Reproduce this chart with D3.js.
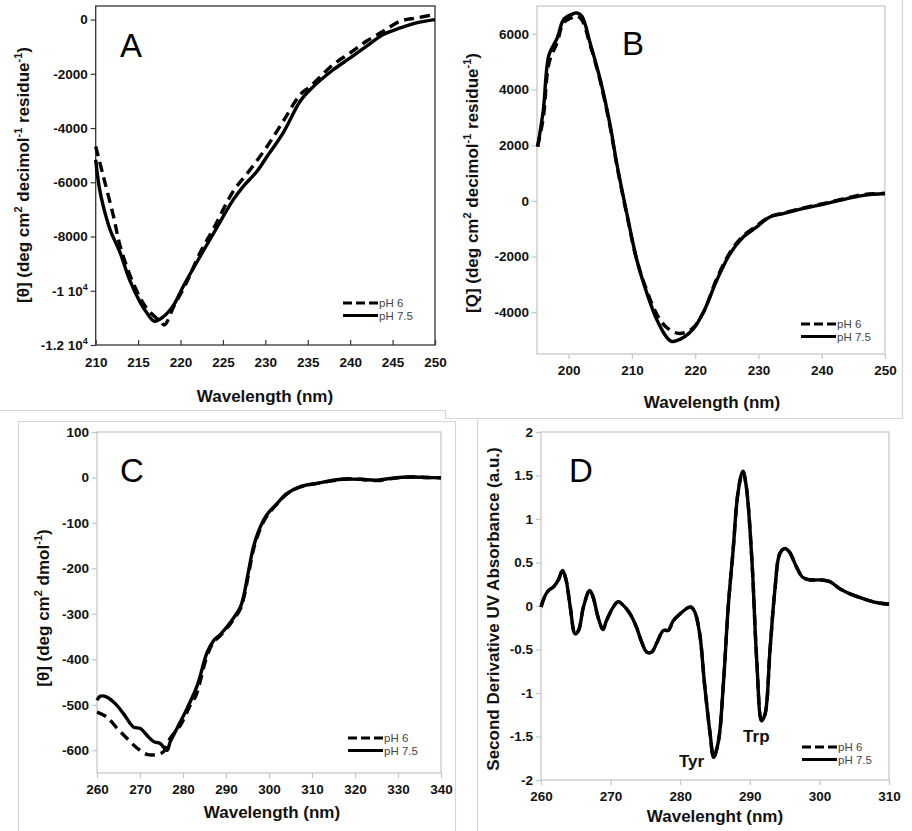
<!DOCTYPE html>
<html><head><meta charset="utf-8">
<script src="https://cdn.jsdelivr.net/npm/d3@7"></script>
<style>
body{margin:0;background:#fff;}
svg{display:block;font-family:"Liberation Sans",Arial,sans-serif;}
</style></head>
<body><svg id="c" width="912" height="831"></svg>
<script>
// ---------- DATA ----------
// Panel A (far-UV CD, mean residue ellipticity)
const aWl75 = [210,210.4,210.9,211.7,212.9,214.0,215.2,216.0,216.9,218,219.2,220.3,222.3,223.9,226.2,227.4,229,230.2,232.1,234.1,235.3,238,240,241.9,243.9,245.9,247.8,250];
const aPH75 = [-5170,-6150,-6890,-7750,-8615,-9600,-10400,-10800,-11120,-10950,-10520,-9850,-8740,-7880,-6650,-6150,-5600,-5050,-4180,-3015,-2580,-1850,-1415,-985,-550,-310,-120,0];
const aWl6  = [210,210.9,212.1,212.9,214.4,216,217.6,218.1,219.2,220.7,222.3,223.9,226.2,228.2,230.2,232.1,234.1,235.3,238,240,241.9,243.9,245.9,247.8,250];
const aPH6  = [-4680,-5780,-7260,-8370,-9700,-10640,-11130,-11260,-10580,-9700,-8600,-7700,-6340,-5540,-4680,-3750,-2770,-2460,-1660,-1230,-800,-430,-60,60,185];
const aXTicks = [210,215,220,225,230,235,240,245,250];
const aYTicks = [0,-2000,-4000,-6000,-8000,-10000,-12000];

// Panel B (far-UV CD)
const bWl75 = [195.1,196,196.9,198.2,199.2,200.5,201.3,202.1,203.4,205,206.6,207.6,209.2,210.8,212.4,214,215.5,216.3,218.2,219.7,221.3,223.4,225.5,227.6,229.7,231.8,233.9,237,240.2,243.4,246.6,250];
const bPH75 = [1950,3270,5250,5850,6510,6700,6750,6630,5670,4350,2670,1350,-460,-2140,-3340,-4300,-4900,-5050,-4900,-4600,-4000,-2860,-1900,-1300,-940,-580,-460,-280,-120,50,200,265];
const bWl6  = [195.1,196,196.9,198.2,199.2,200.5,201.3,202.1,203.4,205,206.6,207.6,209.2,210.8,212.4,214,215.5,217.4,219.5,221.3,223.4,225.5,227.6,229.7,231.8,233.9,237,240.2,243.4,246.6,250];
const bPH6  = [1950,3000,4950,5700,6400,6580,6650,6500,5600,4300,2600,1300,-500,-2150,-3250,-4100,-4550,-4760,-4600,-4000,-2800,-1850,-1250,-900,-560,-440,-260,-100,70,230,265];
const bXTicks = [200,210,220,230,240,250];
const bYTicks = [6000,4000,2000,0,-2000,-4000];

// Panel C (near-UV CD)
const cWl75 = [260,260.8,262.3,264.3,266.2,268.5,270.1,271.6,273.2,274.7,276.3,277,278.6,280.9,283.3,285.6,287.1,288.7,291,293.3,294.1,295.3,296.4,298,299.5,301.9,304.2,307.3,311.2,315,317.4,321.2,325.1,329,332.9,336.7,340];
const cPH75 = [-490,-481,-483,-498,-520,-549,-552,-567,-581,-585,-600,-582,-552,-509,-458,-385,-359,-345,-319,-286,-261,-203,-152,-108,-82,-57,-35,-20,-13,-6,-4,-4,-6,-1,1,0,-1];
const cWl6  = [260,262.3,264.7,267,269.3,271.6,274,275.5,277,279.4,281.7,283,285.6,287.1,288.7,291,293.3,294.1,295.3,296.4,298,299.5,301.9,304.2,307.3,311.2,315,317.4,321.2,325.1,329,332.9,336.7,340];
const cPH6  = [-516,-527,-552,-574,-595,-609,-609,-603,-574,-545,-501,-480,-392,-362,-348,-322,-290,-266,-210,-158,-112,-85,-58,-36,-21,-13,-7,-3,-4,-7,-2,1,0,-1];
const cXTicks = [260,270,280,290,300,310,320,330,340];
const cYTicks = [100,0,-100,-200,-300,-400,-500,-600];

// Panel D (second-derivative UV absorbance)
const dWl = [260,260.6,261.1,261.8,262.5,263.1,263.6,264.2,264.9,265.4,266.1,267,267.5,268.2,268.9,269.4,270.4,271.1,271.8,272.8,273.7,274.4,275.2,275.9,276.6,277.6,278.3,279,280,280.9,281.5,282.1,282.8,283.5,284.3,284.8,285.5,286.2,286.9,287.6,288.3,289,289.5,290.3,291,291.7,292.2,292.9,293.6,294.3,295,295.7,296.7,297.6,298.6,300,301.5,302.9,304.4,306.3,308.2,310];
const dPH75 = [-0.01,0.12,0.18,0.22,0.30,0.41,0.30,-0.01,-0.32,-0.28,-0.01,0.18,0.10,-0.13,-0.27,-0.17,-0.01,0.05,0.01,-0.09,-0.24,-0.40,-0.53,-0.53,-0.43,-0.28,-0.28,-0.17,-0.09,-0.03,-0.01,-0.07,-0.32,-0.90,-1.47,-1.74,-1.55,-0.90,-0.01,0.64,1.30,1.55,1.37,0.53,-0.63,-1.32,-1.24,-0.51,0.18,0.60,0.66,0.62,0.45,0.33,0.30,0.30,0.28,0.20,0.14,0.085,0.04,0.02];
const dPH6  = [-0.01,0.12,0.18,0.22,0.30,0.41,0.30,-0.01,-0.32,-0.28,-0.01,0.18,0.10,-0.13,-0.27,-0.17,-0.01,0.05,0.01,-0.09,-0.24,-0.40,-0.53,-0.53,-0.43,-0.28,-0.28,-0.17,-0.09,-0.03,-0.01,-0.07,-0.32,-0.90,-1.47,-1.74,-1.55,-0.90,-0.01,0.64,1.30,1.55,1.37,0.53,-0.63,-1.32,-1.24,-0.51,0.18,0.60,0.66,0.62,0.45,0.33,0.30,0.30,0.28,0.20,0.14,0.085,0.04,0.02];
const dXTicks = [260,270,280,290,300,310];
const dYTicks = [2,1.5,1,0.5,0,-0.5,-1,-1.5,-2];
const dAnnotations = ["Tyr","Trp"];
const dAnnotationWl = [284.8,291.8];
const dAnnotationVal = [-1.74,-1.32];

const seriesNames = ["pH 6","pH 7.5"];

// ---------- DRAW ----------
const svg = d3.select("#c");
const FRAME_GRAY = "#c4c4c4";
const FONT = "'Liberation Sans',Arial,sans-serif";

// panel separator lines (light gray)
const sep = svg.append("g").attr("fill","none").attr("stroke","#d6d6d6").attr("stroke-width",1.2);
sep.append("path").attr("d","M0,410.5H445.5V418.5H902.5V0");
sep.append("path").attr("d","M18.5,831V421.5H455.5V831");
sep.append("path").attr("d","M477.5,418.5V831");

const panels = [
  {letter:"A", xd:[210,250], xr:[95.7,435], yd:[-12000,500], yr:[345,6],
   wl75:aWl75, v75:aPH75, wl6:aWl6, v6:aPH6, xt:aXTicks, yt:aYTicks,
   dark:true, xIn:true, letterPos:[120,57],
   ylab:["[θ] (deg cm","2"," decimol","-1"," residue","-1",")"], ylabPos:[29,175],
   xlab:"Wavelength (nm)", xlabPos:[265,402], legend:[343,303]},
  {letter:"B", xd:[195,250], xr:[537,885], yd:[-5500,7000], yr:[354,6],
   wl75:bWl75, v75:bPH75, wl6:bWl6, v6:bPH6, xt:bXTicks, yt:bYTicks,
   dark:false, xIn:false, letterPos:[622,55],
   ylab:["[Q] (deg cm","2"," decimol","-1"," residue","-1",")"], ylabPos:[478,183],
   xlab:"Wavelength (nm)", xlabPos:[712,408], legend:[801,324]},
  {letter:"C", xd:[260,340], xr:[97,441], yd:[-650,100], yr:[773,432],
   wl75:cWl75, v75:cPH75, wl6:cWl6, v6:cPH6, xt:cXTicks, yt:cYTicks,
   dark:false, xIn:false, letterPos:[120,482],
   ylab:["[θ] (deg cm","2"," dmol","-1",")"], ylabPos:[49,608],
   xlab:"Wavelength (nm)", xlabPos:[272,818], legend:[348,738]},
  {letter:"D", xd:[260,310], xr:[541,889], yd:[-2,2], yr:[780,432],
   wl75:dWl, v75:dPH75, wl6:dWl, v6:dPH6, xt:dXTicks, yt:dYTicks,
   dark:false, xIn:false, letterPos:[569,482],
   ylab:["Second Derivative UV Absorbance (a.u.)"], ylabPos:[499,609],
   xlab:"Wavelenght (nm)", xlabPos:[715,822], legend:[802,747]}
];

const scalesD = {};

panels.forEach(p => {
  const x = d3.scaleLinear().domain(p.xd).range(p.xr);
  const y = d3.scaleLinear().domain(p.yd).range(p.yr);
  if (p.letter === "D") { scalesD.x = x; scalesD.y = y; }
  const g = svg.append("g");
  const col = p.dark ? "#333" : FRAME_GRAY;

  // frame
  g.append("rect").attr("x",p.xr[0]).attr("y",p.yr[1])
    .attr("width",p.xr[1]-p.xr[0]).attr("height",p.yr[0]-p.yr[1])
    .attr("fill","none").attr("stroke",col).attr("stroke-width",p.dark?1.3:1.2);

  // x axis
  const xa = g.append("g").attr("transform",`translate(0,${p.yr[0]})`)
    .call(d3.axisBottom(x).tickValues(p.xt).tickFormat(d3.format("d"))
      .tickSize(p.xIn ? -5 : 5).tickSizeOuter(0).tickPadding(p.xIn ? 12 : 6));
  xa.select(".domain").remove();
  xa.selectAll("line").attr("stroke",col).attr("stroke-width",1.2);
  xa.selectAll("text").style("font-size","13.5px").style("font-weight","bold").attr("fill","#111")
    .style("font-family",FONT);

  // y axis
  const ya = g.append("g").attr("transform",`translate(${p.xr[0]},0)`)
    .call(d3.axisLeft(y).tickValues(p.yt).tickSize(5).tickSizeOuter(0).tickPadding(3)
      .tickFormat(d => d3.format("")(d).replace("−","-")));
  ya.select(".domain").remove();
  ya.selectAll("line").attr("stroke",col).attr("stroke-width",1.2);
  ya.selectAll("text").style("font-size","13.5px").style("font-weight","bold").attr("fill","#111")
    .style("font-family",FONT);
  if (p.letter === "A") {
    ya.selectAll("text").each(function(d){
      if (d === -10000 || d === -12000) {
        const t = d3.select(this).text("");
        t.append("tspan").text(d === -10000 ? "-1 10" : "-1.2 10");
        t.append("tspan").style("font-size","9px").attr("dy",-6).text("4");
      }
    });
  }

  // curves
  const line = d3.line().x(d=>x(d[0])).y(d=>y(d[1])).curve(d3.curveCatmullRom.alpha(0.5));
  const d6 = p.wl6.map((w,i)=>[w,p.v6[i]]);
  const d75 = p.wl75.map((w,i)=>[w,p.v75[i]]);
  g.append("path").datum(d6).attr("d",line).attr("fill","none").attr("stroke","#000")
    .attr("stroke-width",3.4).attr("stroke-dasharray","10,6");
  g.append("path").datum(d75).attr("d",line).attr("fill","none").attr("stroke","#000")
    .attr("stroke-width",3.4).attr("stroke-linejoin","round");

  // panel letter
  g.append("text").attr("x",p.letterPos[0]).attr("y",p.letterPos[1])
    .attr("font-size",33).attr("font-family",FONT)
    .attr("fill","#000").text(p.letter);

  // y label
  const yl = g.append("text").attr("transform",`translate(${p.ylabPos[0]},${p.ylabPos[1]}) rotate(-90)`)
    .attr("text-anchor","middle").attr("font-size",17).attr("font-weight","bold").attr("fill","#111");
  p.ylab.forEach((s,i)=>{
    const sup = i % 2 === 1;
    const ts = yl.append("tspan").text(s);
    if (sup) ts.attr("font-size",11).attr("dy",-7);
    else if (i>0) ts.attr("dy",7);
  });

  // x label
  g.append("text").attr("x",p.xlabPos[0]).attr("y",p.xlabPos[1]).attr("text-anchor","middle")
    .attr("font-size",17).attr("font-weight","bold").attr("fill","#111").text(p.xlab);

  // legend
  const lg = g.append("g").attr("transform",`translate(${p.legend[0]},${p.legend[1]})`);
  seriesNames.forEach((nm,i)=>{
    lg.append("line").attr("x1",0).attr("x2",35).attr("y1",i*12.5).attr("y2",i*12.5)
      .attr("stroke","#000").attr("stroke-width",3)
      .attr("stroke-dasharray", i===0 ? "9,4" : null);
    lg.append("text").attr("x",36).attr("y",i*12.5+4).attr("font-size",11.5)
      .attr("fill","#444").text(nm);
  });
});

// D annotations (Tyr / Trp), placed next to their minima
const annOffsets = [[-22,10],[-6,21]];
svg.append("g").selectAll("text").data(dAnnotations).join("text")
  .attr("x",(d,i)=>scalesD.x(dAnnotationWl[i])+annOffsets[i][0])
  .attr("y",(d,i)=>scalesD.y(dAnnotationVal[i])+annOffsets[i][1])
  .attr("text-anchor","middle")
  .attr("font-size",17).attr("font-weight","bold").attr("fill","#111").text(d=>d);
</script></body></html>
